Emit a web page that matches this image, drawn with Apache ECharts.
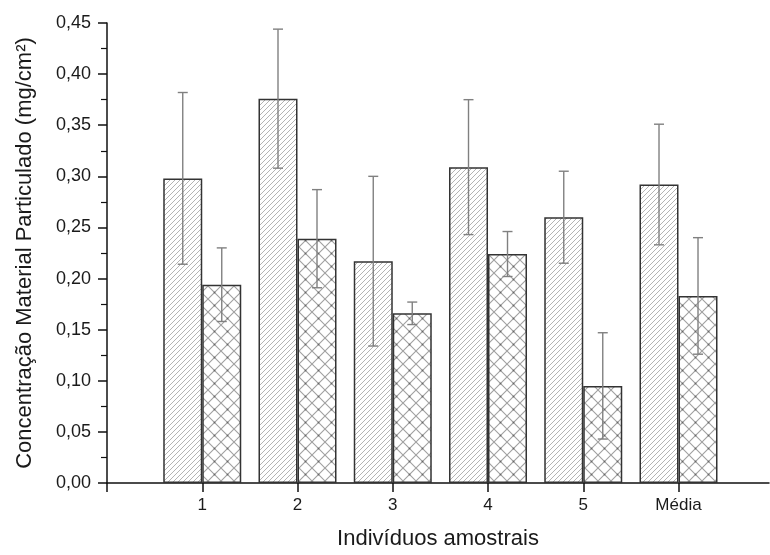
<!DOCTYPE html>
<html>
<head>
<meta charset="utf-8">
<script src="https://cdn.jsdelivr.net/npm/echarts@6/dist/echarts.min.js"></script>
<style>
html,body{margin:0;padding:0;background:#fff;}
#chart{width:770px;height:555px;}
</style>
</head>
<body>
<div id="chart"></div>
<script>
// ---- Data ----
const categories = ['1', '2', '3', '4', '5', 'Média'];
const seriesA = [0.298, 0.376, 0.217, 0.309, 0.260, 0.292];
const errorA  = [0.084, 0.068, 0.083, 0.066, 0.045, 0.059];
const seriesB = [0.194, 0.239, 0.166, 0.224, 0.095, 0.183];
const errorB  = [0.036, 0.048, 0.011, 0.022, 0.052, 0.057];
const yTicks = [0, 0.05, 0.10, 0.15, 0.20, 0.25, 0.30, 0.35, 0.40, 0.45];

// ---- Patterns ----
function hatchPattern() {
  const s = 5;
  const c = document.createElement('canvas');
  c.width = s; c.height = s;
  const g = c.getContext('2d');
  g.fillStyle = '#ffffff'; g.fillRect(0, 0, s, s);
  g.strokeStyle = '#ababab'; g.lineWidth = 0.9;
  g.beginPath();
  g.moveTo(-1, s + 1); g.lineTo(s + 1, -1);
  g.moveTo(-1, 1); g.lineTo(1, -1);
  g.moveTo(s - 1, s + 1); g.lineTo(s + 1, s - 1);
  g.stroke();
  return c;
}
function crossPattern() {
  const s = 13;
  const c = document.createElement('canvas');
  c.width = s; c.height = s;
  const g = c.getContext('2d');
  g.fillStyle = '#ffffff'; g.fillRect(0, 0, s, s);
  g.strokeStyle = '#a0a0a0'; g.lineWidth = 1.1;
  g.beginPath();
  g.moveTo(0, 0); g.lineTo(s, s);
  g.moveTo(s, 0); g.lineTo(0, s);
  g.stroke();
  g.fillStyle = '#666';
  g.fillRect(s / 2 - 0.8, s / 2 - 0.8, 1.6, 1.6);
  return c;
}

const BAR_W = 39;
const chart = echarts.init(document.getElementById('chart'), null, {renderer: 'canvas'});

function errSeries(vals, errs, side) {
  return {
    type: 'custom',
    z: 5,
    data: vals.map((v, i) => [i + 1, v, errs[i]]),
    renderItem: function (params, api) {
      const x = api.value(0), v = api.value(1), e = api.value(2);
      const top = api.coord([x, v + e]);
      const bot = api.coord([x, v - e]);
      const cx = top[0] + side * BAR_W / 2;
      const cap = 5;
      const st = {stroke: '#808080', lineWidth: 1.4};
      return {
        type: 'group',
        children: [
          {type: 'line', shape: {x1: cx, y1: top[1], x2: cx, y2: bot[1]}, style: st},
          {type: 'line', shape: {x1: cx - cap, y1: top[1], x2: cx + cap, y2: top[1]}, style: st},
          {type: 'line', shape: {x1: cx - cap, y1: bot[1], x2: cx + cap, y2: bot[1]}, style: st}
        ]
      };
    }
  };
}

const option = {
  backgroundColor: '#ffffff',
  animation: false,
  grid: {left: 107, top: 23, width: 662, height: 466, containLabel: false},
  xAxis: {
    type: 'value',
    min: 0, max: 6.95, interval: 1,
    name: 'Indivíduos amostrais',
    nameLocation: 'middle',
    nameGap: 45,
    nameTextStyle: {fontFamily: 'Liberation Sans, Arial', fontSize: 22, color: '#1a1a1a'},
    axisLine: {show: true, lineStyle: {color: '#111', width: 1.5}},
    axisTick: {show: true, length: 9, lineStyle: {color: '#111', width: 1.5}},
    axisLabel: {
      margin: 14,
      showMaxLabel: false,
      fontFamily: 'Liberation Sans, Arial', fontSize: 17, color: '#1a1a1a',
      formatter: function (v) { return categories[v - 1] || ''; }
    },
    splitLine: {show: false}
  },
  yAxis: {
    type: 'value',
    min: 0, max: 0.45, interval: 0.05,
    name: 'Concentração Material Particulado (mg/cm²)',
    nameLocation: 'middle',
    nameGap: 71,
    nameTextStyle: {fontFamily: 'Liberation Sans, Arial', fontSize: 22, color: '#1a1a1a'},
    axisLine: {show: true, lineStyle: {color: '#111', width: 1.5}},
    axisTick: {show: true, length: 9, lineStyle: {color: '#111', width: 1.5}},
    minorTick: {show: true, splitNumber: 2, length: 6, lineStyle: {color: '#111', width: 1.2}},
    axisLabel: {
      margin: 16,
      fontFamily: 'Liberation Sans, Arial', fontSize: 18, color: '#1a1a1a',
      formatter: function (v) { return v.toFixed(2).replace('.', ','); }
    },
    splitLine: {show: false}
  },
  series: [
    {
      type: 'bar',
      barWidth: BAR_W,
      barGap: '0%',
      data: seriesA.map((v, i) => [i + 1, v]),
      itemStyle: {color: {image: hatchPattern(), repeat: 'repeat'}, borderColor: '#333', borderWidth: 1.5}
    },
    {
      type: 'bar',
      barWidth: BAR_W,
      barGap: '0%',
      data: seriesB.map((v, i) => [i + 1, v]),
      itemStyle: {color: {image: crossPattern(), repeat: 'repeat'}, borderColor: '#333', borderWidth: 1.5}
    },
    errSeries(seriesA, errorA, -1),
    errSeries(seriesB, errorB, 1)
  ]
};
chart.setOption(option);
</script>
</body>
</html>
